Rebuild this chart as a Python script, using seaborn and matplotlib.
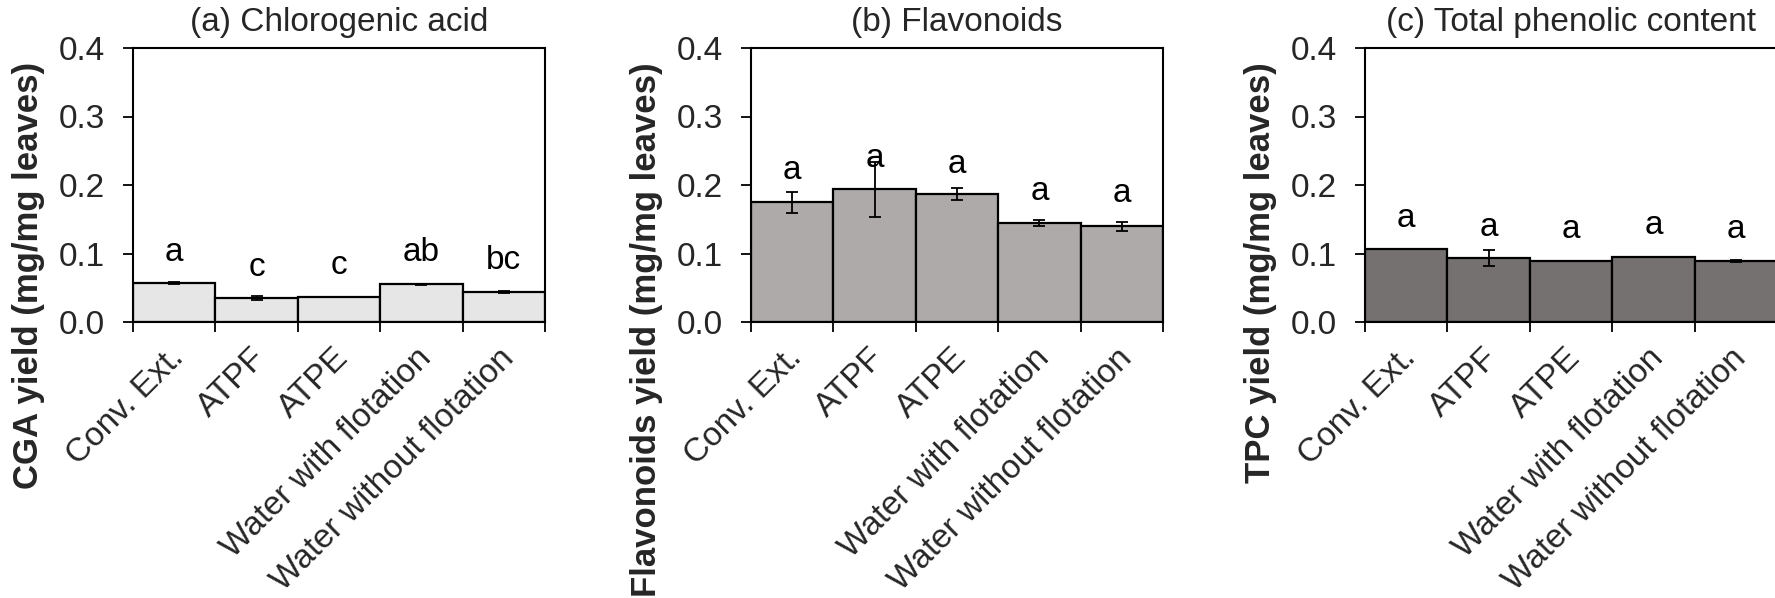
import numpy as np
import pandas as pd
import matplotlib
matplotlib.use("Agg")
import matplotlib.pyplot as plt
import matplotlib.transforms as mtransforms
import seaborn as sns

# ---------------- data ----------------
categories = ["Conv. Ext.", "ATPF", "ATPE", "Water with flotation", "Water without flotation"]

cga_values = [0.057, 0.0346, 0.0365, 0.055, 0.0439]
cga_errors = [0.001, 0.003, 0.0, 0.0005, 0.002]
cga_letters = ["a", "c", "c", "ab", "bc"]
cga_letter_y = [0.089, 0.067, 0.070, 0.089, 0.077]

flav_values = [0.1745, 0.194, 0.1866, 0.145, 0.140]
flav_errors = [0.016, 0.040, 0.009, 0.0045, 0.0066]
flav_letters = ["a", "a", "a", "a", "a"]
flav_letter_y = [0.209, 0.226, 0.218, 0.178, 0.1745]

tpc_values = [0.106, 0.0936, 0.0887, 0.0945, 0.089]
tpc_errors = [0.0, 0.012, 0.0, 0.0, 0.0015]
tpc_letters = ["a", "a", "a", "a", "a"]
tpc_letter_y = [0.138, 0.126, 0.122, 0.128, 0.123]

panel_titles = ["(a) Chlorogenic acid", "(b) Flavonoids", "(c) Total phenolic content"]
y_labels = ["CGA yield (mg/mg leaves)", "Flavonoids yield (mg/mg leaves)", "TPC yield (mg/mg leaves)"]
y_ticks = [0.0, 0.1, 0.2, 0.3, 0.4]
bar_colors = ["#E7E6E6", "#AEAAAA", "#767171"]

# ---------------- style ----------------
sns.set_theme(style="white")
plt.rcParams["font.family"] = ["Liberation Sans", "DejaVu Sans"]
FS = 24
FS_LAB = 25

W, H = 1775, 598
fig = plt.figure(figsize=(W / 100, H / 100), dpi=100)

panel_left_px = [133, 751, 1365]
ax_w_px, ax_top_px, ax_bot_px = 412, 48, 322

panels = [
    (cga_values, cga_errors, cga_letters, cga_letter_y),
    (flav_values, flav_errors, flav_letters, flav_letter_y),
    (tpc_values, tpc_errors, tpc_letters, tpc_letter_y),
]

for k, (vals, errs, letters, ly) in enumerate(panels):
    ax = fig.add_axes([panel_left_px[k] / W, 1 - ax_bot_px / H,
                       ax_w_px / W, (ax_bot_px - ax_top_px) / H])
    df = pd.DataFrame({"category": categories, "value": vals})
    sns.barplot(data=df, x="category", y="value", color=bar_colors[k], width=1,
                edgecolor="black", linewidth=1.6, errorbar=None, saturation=1, ax=ax)
    xpos = np.arange(len(categories))
    ax.errorbar(xpos, vals, yerr=errs, fmt="none", ecolor="black",
                elinewidth=1.3, capsize=4, capthick=1.3, zorder=5)
    for i, (t, y) in enumerate(zip(letters, ly)):
        ax.text(i, y, t, ha="center", va="baseline", fontsize=FS, color="black", zorder=6)

    ax.set_xlim(-0.5, len(categories) - 0.5)
    ax.set_ylim(0, 0.4)
    ax.set_yticks(y_ticks)
    ax.set_yticklabels([f"{t:.1f}" for t in y_ticks], fontsize=FS)
    ax.set_xticks(xpos)
    ax.set_xticklabels(categories, rotation=45, ha="right", va="baseline",
                       rotation_mode="anchor", fontsize=FS)
    ax.set_xticks(np.arange(-0.5, len(categories), 1.0), minor=True)
    ax.tick_params(axis="x", which="major", length=0, pad=27)
    ax.tick_params(axis="x", which="minor", length=7, width=1.3, direction="out",
                   bottom=True, color="black")
    ax.tick_params(axis="y", which="major", length=7, width=1.3, direction="out",
                   left=True, pad=13, color="black")
    off = mtransforms.ScaledTranslation(11 / 100, 0, fig.dpi_scale_trans)
    for lab in ax.get_xticklabels():
        lab.set_transform(lab.get_transform() + off)

    ax.set_xlabel("")
    ax.set_ylabel(y_labels[k], fontsize=FS_LAB, fontweight="bold", loc="top")
    ax.yaxis.set_label_coords(-88 / ax_w_px, (ax_bot_px - 62) / (ax_bot_px - ax_top_px))
    ax.set_title(panel_titles[k], fontsize=FS, pad=12)

    for s in ax.spines.values():
        s.set_visible(True)
        s.set_color("black")
        s.set_linewidth(1.5)

fig.savefig("out.png", dpi=100)
